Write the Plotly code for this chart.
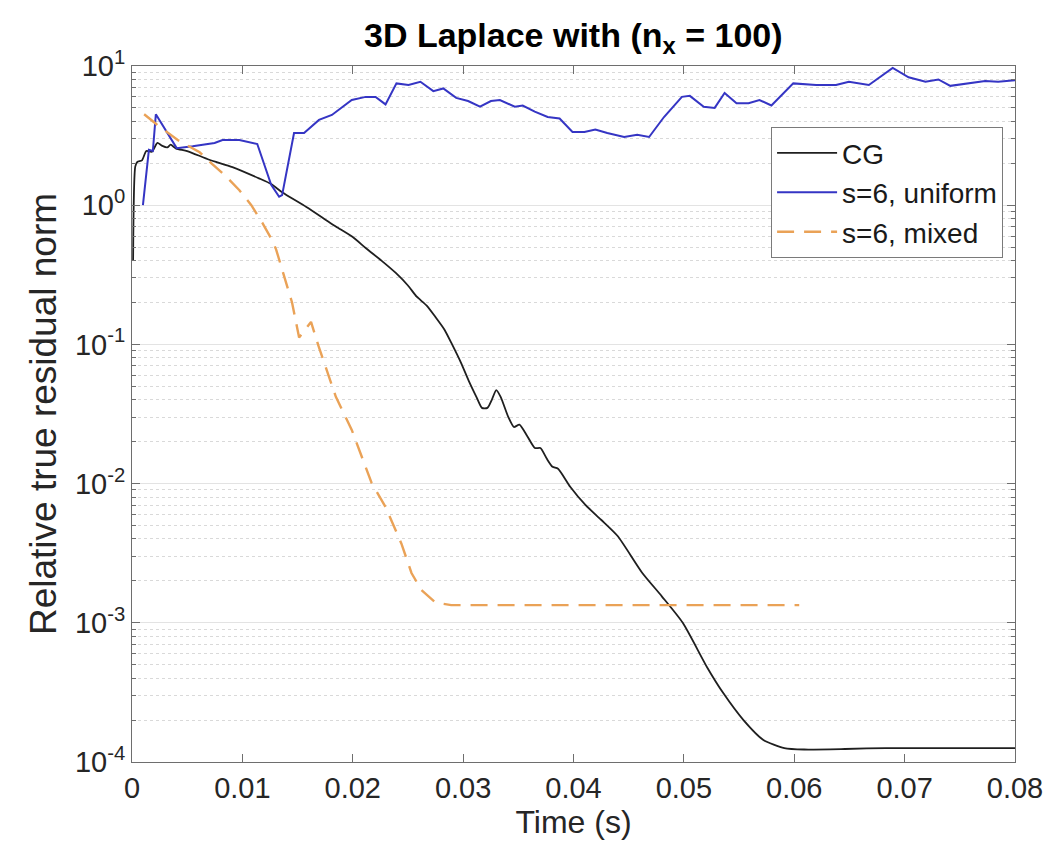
import plotly.graph_objects as go

# ---- data ----
cg_t = [0.0001, 0.0003, 0.0005, 0.0009, 0.0013, 0.0018, 0.0023, 0.0027, 0.0032, 0.0035,
        0.0040, 0.0050, 0.0070, 0.0091, 0.0115, 0.0126, 0.0136, 0.0158, 0.0176, 0.0185,
        0.0200, 0.0212, 0.0226, 0.0239, 0.0250, 0.0258, 0.0267, 0.0275, 0.0283, 0.0290,
        0.0298, 0.0305, 0.0312, 0.0317, 0.0322, 0.0326, 0.0330,
        0.0334, 0.0341, 0.0346, 0.0351, 0.0358, 0.0365, 0.0370, 0.0376, 0.0381, 0.0386,
        0.0397, 0.0411, 0.0425, 0.0440, 0.0462, 0.0480, 0.0499, 0.0521, 0.0536, 0.0554,
        0.0572, 0.0591, 0.0609, 0.0646, 0.0683, 0.0800]
cg_r = [0.40, 1.9, 2.05, 2.1, 2.45, 2.42, 2.8, 2.68, 2.6, 2.72,
        2.55, 2.45, 2.12, 1.88, 1.56, 1.42, 1.24, 0.97, 0.78, 0.70,
        0.59, 0.49, 0.40, 0.326, 0.265, 0.22, 0.19, 0.157, 0.128, 0.10,
        0.074, 0.055, 0.042, 0.035, 0.035, 0.040, 0.047,
        0.042, 0.030, 0.0255, 0.0265, 0.022, 0.018, 0.018, 0.015, 0.0132, 0.0128,
        0.0095, 0.0070, 0.0055, 0.0042, 0.0023, 0.00155, 0.00100, 0.00048, 0.00031, 0.00020,
        0.000144, 0.000126, 0.000123, 0.000124, 0.000126, 0.000126]

uni_t = [0.00099, 0.00153, 0.00189, 0.00216, 0.00405, 0.0055, 0.00748, 0.0082, 0.00973, 0.01135,
         0.01261, 0.01333, 0.0136, 0.01468, 0.01559, 0.01694, 0.01811, 0.01991, 0.02117, 0.02207,
         0.02297, 0.02396, 0.02505, 0.02613, 0.0273, 0.0282, 0.02937, 0.03045, 0.03153, 0.03252,
         0.03333, 0.03468, 0.0354, 0.03649, 0.03766, 0.03874, 0.03991, 0.04099, 0.04198, 0.04306,
         0.04459, 0.04577, 0.04685, 0.0482, 0.04982, 0.05054, 0.0518, 0.05279, 0.05369, 0.05477,
         0.05586, 0.05685, 0.05793, 0.05991, 0.06198, 0.06378, 0.06495, 0.06676, 0.06892, 0.07036,
         0.07189, 0.07306, 0.07414, 0.07577, 0.0773, 0.07847, 0.0800]
uni_r = [1.0, 2.5, 2.45, 4.5, 2.57, 2.65, 2.8, 2.94, 2.94, 2.75,
         1.40, 1.15, 1.18, 3.3, 3.3, 4.1, 4.45, 5.7, 6.0, 6.0,
         5.3, 7.5, 7.3, 7.7, 6.6, 6.9, 5.9, 5.6, 5.1, 5.6,
         5.7, 5.1, 5.2, 4.7, 4.3, 4.2, 3.36, 3.36, 3.5, 3.3,
         3.09, 3.2, 3.09, 4.3, 6.0, 6.1, 5.1, 5.0, 6.4, 5.4,
         5.4, 5.7, 5.2, 7.5, 7.3, 7.3, 7.7, 7.3, 9.7, 8.3,
         7.7, 8.0, 7.2, 7.5, 7.8, 7.7, 7.9]

mix_t = [0.0011, 0.00225, 0.00414, 0.00613, 0.0072, 0.00856, 0.00973, 0.01081, 0.0118, 0.0127,
         0.01306, 0.0145, 0.01514, 0.01622, 0.01694, 0.01847, 0.01991, 0.02171, 0.02297, 0.02441,
         0.02532, 0.02622, 0.02748, 0.02892, 0.06045]
mix_r = [4.5, 3.8, 2.94, 2.4, 2.0, 1.6, 1.28, 1.0, 0.75, 0.56,
         0.48, 0.2, 0.112, 0.145, 0.095, 0.042, 0.0243, 0.0101, 0.0068, 0.0037,
         0.00228, 0.00172, 0.0014, 0.00134, 0.00134]

names = ["CG", "s=6, uniform", "s=6, mixed"]
title_text = "<b>3D Laplace with (n<sub>x</sub> = 100)</b>"
x_ticks = [0, 0.01, 0.02, 0.03, 0.04, 0.05, 0.06, 0.07, 0.08]
x_labels = ["0", "0.01", "0.02", "0.03", "0.04", "0.05", "0.06", "0.07", "0.08"]
y_ticks = [1e-4, 1e-3, 1e-2, 1e-1, 1e0, 1e1]
y_labels = ["10<sup>-4</sup>", "10<sup>-3</sup>", "10<sup>-2</sup>", "10<sup>-1</sup>",
            "10<sup>0</sup>", "10<sup>1</sup>"]

FONT = "Liberation Sans, Arial, Helvetica, sans-serif"
AX = "#6e6e6e"
TXT = "#262626"

fig = go.Figure()
fig.add_trace(go.Scatter(x=cg_t, y=cg_r, mode="lines", name=names[0],
                         line=dict(color="#1f1f1f", width=1.8, shape="spline", smoothing=0.6)))
fig.add_trace(go.Scatter(x=uni_t, y=uni_r, mode="lines", name=names[1],
                         line=dict(color="#3535c4", width=2.0)))
fig.add_trace(go.Scatter(x=mix_t, y=mix_r, mode="lines", name=names[2],
                         line=dict(color="#eaa257", width=2.4, dash="17px,10px")))

fig.update_layout(
    width=1047, height=848,
    margin=dict(l=124, r=35, t=58, b=94),
    paper_bgcolor="white", plot_bgcolor="white",
    font=dict(family=FONT, size=29, color=TXT),
    showlegend=True,
    legend=dict(x=0.9865, y=0.912, xanchor="right", yanchor="top",
                bgcolor="white", bordercolor="#7a7a7a", borderwidth=1,
                font=dict(size=28, color="#1a1a1a"), tracegroupgap=0,
                itemwidth=60),
)
fig.add_annotation(text=title_text, xref="paper", yref="paper", x=0.5, y=1,
                   xanchor="center", yanchor="bottom", yshift=5, showarrow=False,
                   font=dict(size=34, color="black", family=FONT))

fig.update_xaxes(
    range=[0, 0.08], tickvals=x_ticks, ticktext=x_labels,
    showgrid=False, zeroline=False,
    showline=True, linecolor=AX, linewidth=1, mirror="ticks",
    ticks="inside", ticklen=8, tickcolor=AX,
    title=dict(text="Time (s)", standoff=4, font=dict(size=32, color=TXT)),
    tickfont=dict(size=29, color=TXT),
)
fig.update_yaxes(
    type="log", range=[-4, 1], tickvals=y_ticks, ticktext=y_labels,
    showgrid=True, gridcolor="#e3e3e3", gridwidth=1, zeroline=False,
    showline=True, linecolor=AX, linewidth=1, mirror="ticks",
    ticks="inside", ticklen=8, tickcolor=AX,
    minor=dict(ticks="inside", ticklen=4, tickcolor=AX, dtick="D1",
               showgrid=True, gridcolor="#d9d9d9", griddash="dot", gridwidth=1),
    title=dict(text="Relative true residual norm", standoff=6,
               font=dict(size=37, color=TXT)),
    tickfont=dict(size=29, color=TXT),
)

fig.write_html("out.html")
